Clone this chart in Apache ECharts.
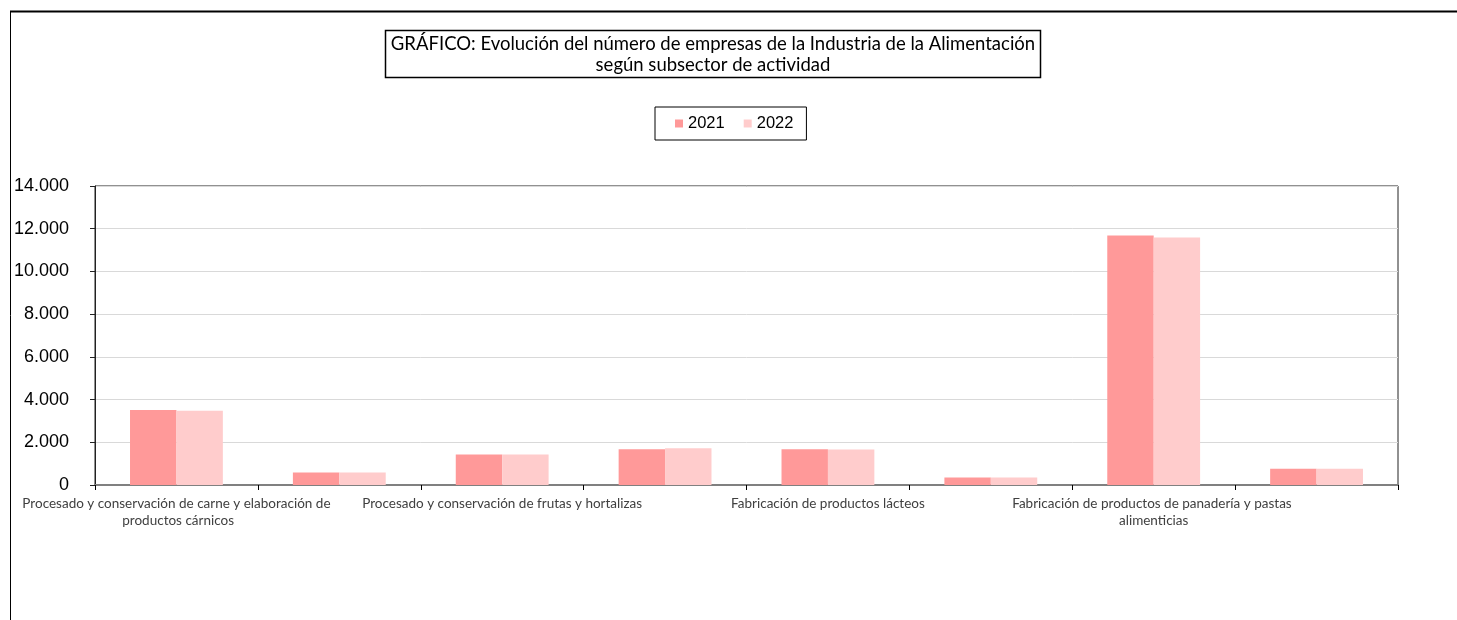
<!DOCTYPE html>
<html>
<head>
<meta charset="utf-8">
<script src="https://cdn.jsdelivr.net/npm/echarts@6/dist/echarts.min.js"></script>
<style>
html,body{margin:0;padding:0;background:#fff;}
#chart{width:1457px;height:620px;}
</style>
</head>
<body>
<div id="chart"></div>
<script>
const categories = [
  "Procesado y conservación de carne y elaboración de productos cárnicos",
  "Procesado y conservación de pescados, crustáceos y moluscos",
  "Procesado y conservación de frutas y hortalizas",
  "Fabricación de aceites y grasas vegetales y animales",
  "Fabricación de productos lácteos",
  "Fabricación de productos de molinería, almidones y productos amiláceos",
  "Fabricación de productos de panadería y pastas alimenticias",
  "Fabricación de productos para la alimentación animal"
];
const values2021 = [3510, 580, 1430, 1670, 1670, 350, 11680, 760];
const values2022 = [3480, 580, 1430, 1720, 1660, 350, 11590, 760];
const seriesNames = ["2021", "2022"];
const yTicks = [0, 2000, 4000, 6000, 8000, 10000, 12000, 14000];

const titleLines = [
  "GRÁFICO: Evolución del número de empresas de la Industria de la Alimentación",
  "según subsector de actividad"
];

const chart = echarts.init(document.getElementById('chart'));
chart.setOption({
  animation: false,
  backgroundColor: '#fff',
  color: ['#FF9999', '#FFCCCC'],
  graphic: [
    { type: 'line', shape: { x1: 10, y1: 11.5, x2: 1457, y2: 11.5 }, style: { stroke: '#000', lineWidth: 2 } },
    { type: 'line', shape: { x1: 10.5, y1: 11, x2: 10.5, y2: 620 }, style: { stroke: '#000', lineWidth: 1 } },
    { type: 'rect', shape: { x: 385.5, y: 30.5, width: 655, height: 47 }, style: { fill: '#fff', stroke: '#000', lineWidth: 1.5 } },
    { type: 'text', x: 713, y: 34, style: { text: titleLines.join('\n'), textAlign: 'center', fontFamily: 'Lato', fontSize: 18.5, lineHeight: 21, fill: '#000' } }
  ],
  legend: {
    data: seriesNames,
    left: 655,
    top: 107,
    padding: [8, 13, 8, 20],
    itemWidth: 8,
    itemHeight: 8,
    itemGap: 19,
    icon: 'rect',
    borderColor: '#000',
    borderWidth: 1,
    textStyle: { fontFamily: 'Liberation Sans, Arial', fontSize: 16.5, color: '#000' }
  },
  grid: {
    left: 95, right: 59, top: 186, bottom: 135,
    show: true, borderColor: '#222', borderWidth: 1, containLabel: false
  },
  xAxis: {
    type: 'category',
    data: categories,
    axisLine: { show: true, lineStyle: { color: '#808080', width: 2 } },
    axisTick: { show: true, interval: 0, length: 5, lineStyle: { color: '#000' } },
    axisLabel: {
      interval: 1,
      hideOverlap: false,
      margin: 10,
      width: 324,
      overflow: 'break',
      fontFamily: 'Lato',
      fontSize: 13.5,
      lineHeight: 17,
      color: '#404040'
    },
    splitLine: { show: false }
  },
  yAxis: {
    type: 'value',
    min: yTicks[0],
    max: yTicks[yTicks.length - 1],
    interval: 2000,
    axisLine: { show: true, lineStyle: { color: '#222', width: 1 } },
    axisTick: { show: true, length: 5, lineStyle: { color: '#222' } },
    axisLabel: {
      margin: 26,
      fontFamily: 'Liberation Sans, Arial',
      fontSize: 18,
      color: '#000',
      formatter: v => v.toLocaleString('de-DE')
    },
    splitLine: { show: true, lineStyle: { color: '#d9d9d9', width: 1 } }
  },
  series: [
    { name: seriesNames[0], type: 'bar', data: values2021, barGap: '0%', barCategoryGap: '43%' },
    { name: seriesNames[1], type: 'bar', data: values2022, barGap: '0%', barCategoryGap: '43%' }
  ]
});
</script>
</body>
</html>
